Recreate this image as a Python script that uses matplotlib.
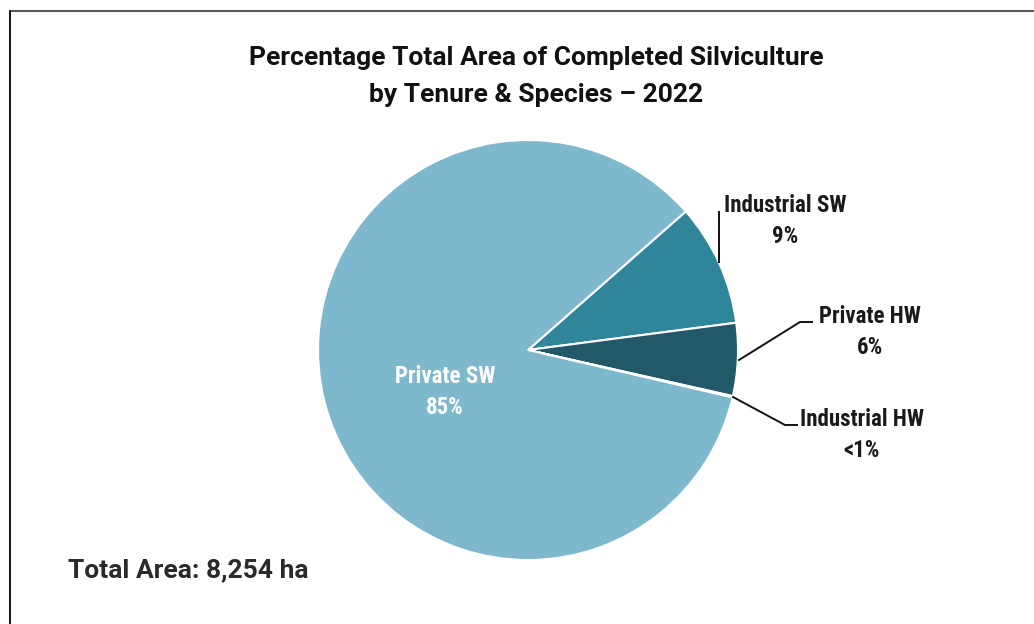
import matplotlib.pyplot as plt
from matplotlib.patches import Rectangle

# silviculture area share by tenure & species (percent of total area)
labels = ['Industrial SW', 'Private HW', 'Industrial HW', 'Private SW']
shares = [9.4, 5.6, 0.1, 84.9]
pct_text = ['9%', '6%', '<1%', '85%']
colors = ['#2f869b', '#215968', '#a9d3e0', '#7db8cd']
total_ha = 8254

cond = ['Roboto Condensed', 'Liberation Sans Narrow', 'Roboto', 'DejaVu Sans']
bold = ['Roboto', 'DejaVu Sans']

fig = plt.figure(figsize=(10.34, 6.24), dpi=100)
ax = fig.add_axes([0, 0, 1, 1])

# frame (only top and left edges fall inside the canvas)
ax.add_patch(Rectangle((9.5, -20), 1100, 633, fill=False, edgecolor='#555555', lw=1.5))
ax.plot([9.5, 9.5], [-20, 613], color='#111111', lw=1.2)

cx, cy, r = 528, 274, 210
wedges, _ = ax.pie(shares, colors=colors, startangle=41.3, counterclock=False,
                   center=(cx, cy), radius=r, frame=True,
                   wedgeprops=dict(edgecolor='white', linewidth=1.5))
ax.set_xlim(0, 1034)
ax.set_ylim(0, 624)
ax.axis('off')

ax.text(536, 566, 'Percentage Total Area of Completed Silviculture',
        ha='center', va='center', fontsize=19, fontweight='bold', family=bold, color='#111111')
ax.text(536, 529, 'by Tenure & Species \u2013 2022',
        ha='center', va='center', fontsize=19, fontweight='bold', family=bold, color='#111111')

# inside label
ax.text(445, 232, labels[3] + '\n' + pct_text[3], ha='center', va='center',
        fontsize=16.5, fontweight='bold', family=cond, color='white', linespacing=1.4)

# outside labels with leader lines
lc = '#111111'
tc = '#1a1a1a'
ax.plot([719, 719], [362, 412], color=lc, lw=1.4)
ax.text(785, 403, labels[0] + '\n' + pct_text[0], ha='center', va='center',
        fontsize=16.5, fontweight='bold', family=cond, color=tc, linespacing=1.4)

ax.plot([739, 800, 812], [264, 302, 302], color=lc, lw=1.4)
ax.text(870, 292, labels[1] + '\n' + pct_text[1], ha='center', va='center',
        fontsize=16.5, fontweight='bold', family=cond, color=tc, linespacing=1.4)

ax.plot([733, 785, 797], [227, 199, 199], color=lc, lw=1.4)
ax.text(862, 189, labels[2] + '\n' + pct_text[2], ha='center', va='center',
        fontsize=16.5, fontweight='bold', family=cond, color=tc, linespacing=1.4)

ax.text(68, 54, f'Total Area: {total_ha:,} ha', ha='left', va='center',
        fontsize=19, fontweight='bold', family=bold, color='#2a2a2a')

fig.savefig('out.png', dpi=100)
